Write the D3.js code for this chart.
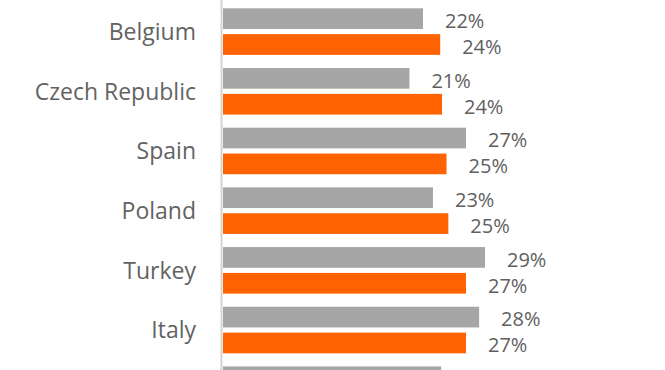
<!DOCTYPE html>
<html>
<head>
<meta charset="utf-8">
<script src="https://cdn.jsdelivr.net/npm/d3@7"></script>
<style>
  body { margin: 0; background: #fff; }
  text { font-family: "Open Sans", "Liberation Sans", sans-serif; }
</style>
</head>
<body>
<svg id="chart" width="665" height="370"></svg>
<script>
// Data (last row is cut off at the bottom edge)
const countries = ["Belgium", "Czech Republic", "Spain", "Poland", "Turkey", "Italy", ""];
const seriesA = [22.1, 20.6, 26.85, 23.2, 28.95, 28.3, 24.1];   // grey bars
const seriesB = [24.0, 24.2, 24.7, 24.9, 26.85, 26.85, null];   // orange bars
const seriesKeys = ["a", "b"];
const colors = { a: "#a6a6a6", b: "#ff6200" };

const svg = d3.select("#chart");
const width = +svg.attr("width");
const height = +svg.attr("height");
const margin = { left: 223 };

const rows = countries.map((c, i) => ({ country: c, a: seriesA[i], b: seriesB[i] }));

// Scales
const x = d3.scaleLinear().domain([0, 10]).range([margin.left, margin.left + 90.5]);
const y = d3.scaleBand()
    .domain(countries)
    .range([8.3, 8.3 + 6 * 59.7 + 46.5])
    .paddingInner(0.22)
    .paddingOuter(0);
const ySub = d3.scaleBand()
    .domain(seriesKeys)
    .range([0, y.bandwidth()])
    .paddingInner(0.2);

svg.append("rect").attr("width", width).attr("height", height).attr("fill", "#fff");

// Axis line
svg.append("line")
    .attr("x1", margin.left - 1.5).attr("x2", margin.left - 1.5)
    .attr("y1", 0).attr("y2", height)
    .attr("stroke", "#d4d4d4")
    .attr("stroke-width", 2);

// Bars and value labels
const groups = svg.selectAll(".group")
    .data(rows)
    .join("g")
    .attr("class", "group")
    .attr("transform", d => `translate(0,${y(d.country)})`);

const bars = groups.selectAll(".bar")
    .data(d => seriesKeys.filter(k => d[k] != null).map(k => ({ key: k, value: d[k] })))
    .join("g")
    .attr("class", "bar");

bars.append("rect")
    .attr("x", x(0))
    .attr("y", d => ySub(d.key))
    .attr("width", d => x(d.value) - x(0))
    .attr("height", ySub.bandwidth())
    .attr("fill", d => colors[d.key]);

bars.append("text")
    .attr("x", d => x(d.value) + 22)
    .attr("y", d => ySub(d.key) + ySub.bandwidth() - 1)
    .attr("fill", "#5f5f5f")
    .style("font-size", "20px")
    .text(d => Math.round(d.value) + "%");

// Country labels
groups.filter(d => d.country !== "")
    .append("text")
    .attr("x", margin.left - 27)
    .attr("y", y.bandwidth() / 2)
    .attr("dy", "0.36em")
    .attr("text-anchor", "end")
    .attr("fill", "#636363")
    .style("font-size", "23px")
    .text(d => d.country);
</script>
</body>
</html>
